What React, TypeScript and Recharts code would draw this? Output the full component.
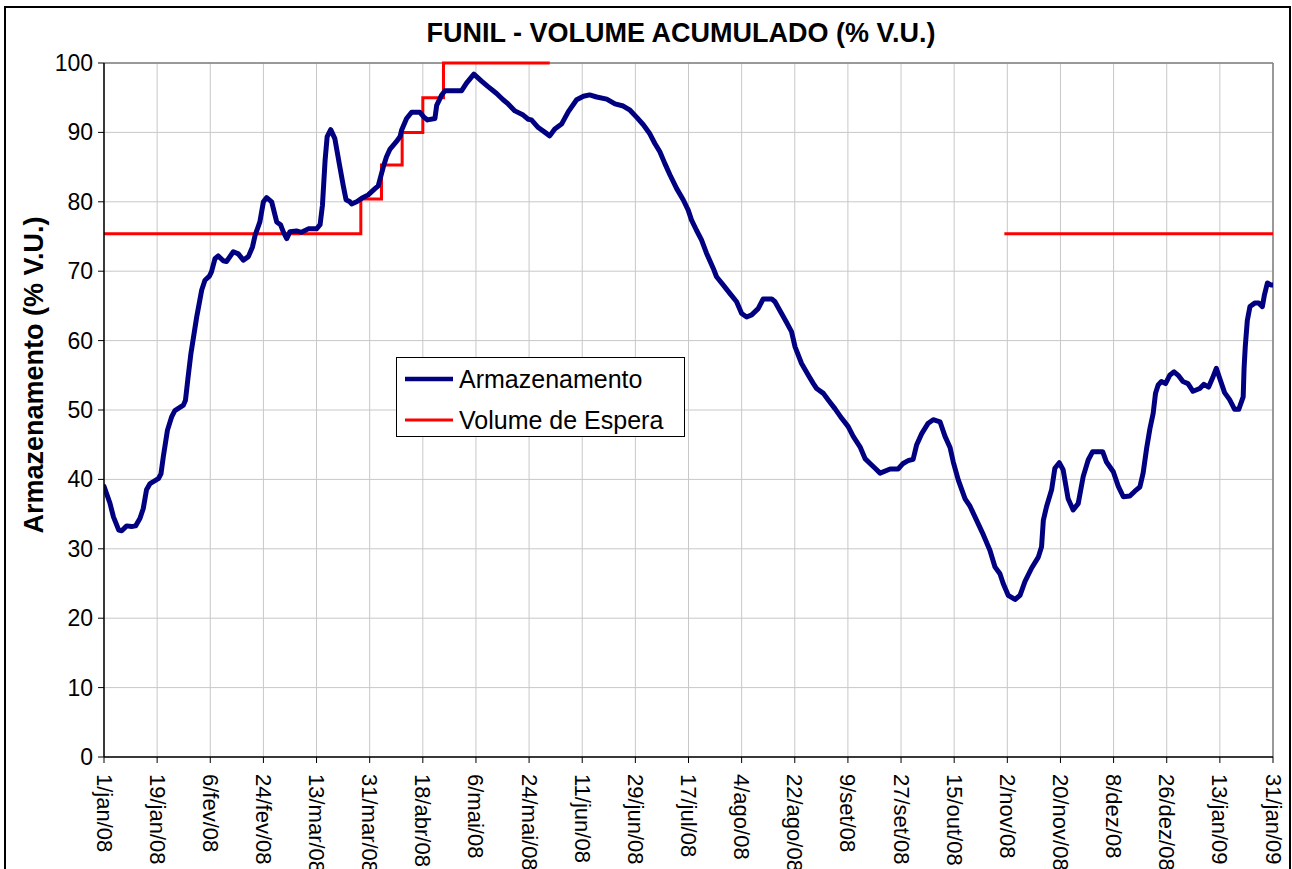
import React from 'react';
import { LineChart, Line, XAxis, YAxis, CartesianGrid, ReferenceLine } from 'recharts';

// Day offsets from 1/jan/08 and storage values (% V.U.)
const armDays = [
  0, 2, 3.2, 5, 6, 7.7, 9.3, 10.7, 12.2, 13.3, 14.4, 15.6, 18.4, 19.3, 20.1, 21.5, 22.9, 24, 26.9, 27.6,
  28.5, 29.4, 31.4, 33.1, 34.2, 35.7, 36.4, 37.6, 38.7, 40.4, 41.5, 43.8, 45.5, 47.2, 48.9, 50.3, 51.2, 52.8,
  54, 55.1, 56.8, 58.5, 59.8, 60.7, 61.9, 63, 65.2, 66.9, 69.2, 72, 73.2, 74, 74.9, 75.6, 76.8, 78.2, 79.7,
  81.1, 82, 83.3, 83.9, 85.6, 87.3, 89.5, 91.8, 92.9, 94.6, 95.7, 96.9, 99.1, 100.3, 100.8, 102.5, 104.2,
  107, 108.4, 109.6, 112.1, 112.7, 114.4, 115.5, 121.1, 122.8, 125.3, 127.9, 130.1, 133, 135.2, 136.9,
  139.2, 142, 143.7, 144.8, 147.1, 149.4, 151, 152.7, 155, 157.3, 160.1, 162.4, 164.5, 166.9, 170.3, 173.1,
  175.9, 178.2, 180.4, 182.7, 184.9, 186.6, 188.3, 190, 191.7, 194, 196.2, 197.9, 199, 200.7, 202.4, 204.1,
  206.4, 207.5, 209.8, 212, 214.3, 216, 217.7, 219.4, 221.6, 223.3, 226.2, 227.3, 229, 231, 232.9, 234.1,
  236.3, 238.6, 240.3, 241.4, 243.7, 245.4, 247.6, 249.9, 252.1, 253.8, 256.1, 257.8, 259.5, 261.2, 262.9,
  266.3, 269, 270.7, 272.4, 274.1, 275.3, 277, 279.2, 280.9, 283.2, 284.9, 286.6, 287.7, 289.4, 291.7,
  293.4, 295.6, 297.9, 300.1, 301.8, 303.5, 304.6, 306.3, 308.6, 310.3, 312, 314.2, 316.5, 317.6, 318.2,
  319.3, 321, 322.1, 323.6, 324.9, 326.6, 328.3, 330, 331.7, 333.4, 334.9, 338.3, 339.6, 341.9, 343.6,
  345.3, 347.5, 349.2, 350.9, 352, 353.2, 354.3, 355.4, 356.2, 357.1, 358.2, 359.6, 361, 362.5, 363.9,
  365.5, 367.2, 368.9, 371.2, 372.6, 374.2, 375.7, 376.8, 378, 379.6, 381.3, 383, 384.4, 385.9, 386.2,
  386.6, 387.3, 388.2, 389.8, 391.2, 392.4, 393.1, 394.1, 395.4, 396,
];
const armValues = [
  39.0, 36.6, 34.6, 32.7, 32.6, 33.3, 33.2, 33.3, 34.4, 35.8, 38.5, 39.4, 40.1, 40.8, 43.3, 47.1, 49.0, 49.9, 50.7, 51.4,
  54.8, 58.0, 63.4, 67.3, 68.7, 69.3, 69.9, 71.8, 72.2, 71.5, 71.4, 72.8, 72.5, 71.6, 72.1, 73.5, 75.2, 77.1,
  80.0, 80.6, 80.0, 77.1, 76.7, 75.7, 74.7, 75.7, 75.8, 75.6, 76.1, 76.1, 76.7, 79.5, 86.0, 89.4, 90.4, 89.1, 85.5,
  82.2, 80.3, 80.0, 79.7, 80.0, 80.5, 81.0, 81.9, 82.3, 85.0, 86.5, 87.6, 88.7, 89.4, 90.3, 92.0, 92.9,
  92.9, 92.2, 91.8, 92.0, 93.9, 95.4, 96.0, 96.0, 97.1, 98.4, 97.4, 96.6, 95.6, 94.7, 94.1,
  93.1, 92.5, 91.9, 91.8, 90.7, 90.0, 89.5, 90.5, 91.2, 93.0, 94.7, 95.2, 95.4, 95.1, 94.8, 94.1,
  93.8, 93.2, 92.2, 91.1, 89.8, 88.4, 87.2, 85.5, 83.9, 81.9, 80.3, 78.8, 77.4, 75.9, 74.5, 72.6,
  70.4, 69.2, 68.0, 66.8, 65.6, 63.9, 63.4, 63.7, 64.6, 66.0, 66.0, 65.6, 64.3, 62.8, 61.3, 59.1,
  56.7, 55.0, 53.8, 53.1, 52.4, 51.4, 50.2, 48.8, 47.6, 46.2, 44.7, 43.0, 42.3, 41.6, 40.9,
  41.5, 41.5, 42.3, 42.7, 42.9, 45.0, 46.6, 48.1, 48.6, 48.3, 46.2, 44.6, 42.5, 39.9, 37.2,
  36.1, 34.1, 32.0, 29.8, 27.4, 26.4, 25.0, 23.3, 22.7, 23.3, 25.3, 27.2, 28.8, 30.3, 34.1,
  36.1, 38.5, 41.6, 42.4, 41.4, 37.2, 35.6, 36.5, 40.4, 42.8, 44.0, 44.0, 42.5, 41.1, 39.0,
  37.5, 37.6, 38.3, 38.9, 40.9, 44.5, 47.3, 49.5, 52.4, 53.6, 54.1, 53.8, 55.0, 55.5, 55.0,
  54.1, 53.8, 52.7, 53.1, 53.7, 53.3, 54.8, 56.0, 54.5, 52.5, 51.5, 50.1, 50.1, 51.9, 56.0,
  59.1, 62.9, 64.9, 65.4, 65.4, 64.9, 66.6, 68.3, 68.0, 68.0,
];

// Volume de Espera (flood-control reservation), step line
const esperaDays = [0, 87, 94, 101, 108, 115, 151, 152, 305, 396];
const esperaValues = [75.4, 80.4, 85.3, 90.0, 95.0, 100.0, 100.0, null, 75.4, 75.4];

const xTickDays = [0, 18, 36, 54, 72, 90, 108, 126, 144, 162, 180, 198, 216, 234, 252, 270, 288, 306, 324, 342, 360, 378, 396];
const xTickLabels = [
  '1/jan/08', '19/jan/08', '6/fev/08', '24/fev/08', '13/mar/08', '31/mar/08', '18/abr/08', '6/mai/08',
  '24/mai/08', '11/jun/08', '29/jun/08', '17/jul/08', '4/ago/08', '22/ago/08', '9/set/08', '27/set/08',
  '15/out/08', '2/nov/08', '20/nov/08', '8/dez/08', '26/dez/08', '13/jan/09', '31/jan/09',
];
const yTicks = [0, 10, 20, 30, 40, 50, 60, 70, 80, 90, 100];

const title = 'FUNIL - VOLUME ACUMULADO (% V.U.)';
const yLabel = 'Armazenamento (% V.U.)';
const seriesArm = 'Armazenamento';
const seriesEspera = 'Volume de Espera';

const armData = armDays.map((d, i) => ({ day: d, value: armValues[i] }));
const esperaData = esperaDays.map((d, i) => ({ day: d, value: esperaValues[i] }));

const FONT = '"Liberation Sans", Arial, sans-serif';
const BLUE = '#000080';
const RED = '#ff0000';

const XTick = (props: any) => {
  const { x, payload } = props;
  const idx = xTickDays.indexOf(payload.value);
  const y = 774;
  return (
    <text
      x={x}
      y={y}
      transform={`rotate(90 ${x} ${y})`}
      textAnchor="start"
      dominantBaseline="central"
      fontFamily={FONT}
      fontSize={22}
      fill="#000"
    >
      {idx >= 0 ? xTickLabels[idx] : ''}
    </text>
  );
};

const YTick = (props: any) => {
  const { y, payload } = props;
  return (
    <text x={93} y={y} textAnchor="end" dominantBaseline="central" fontFamily={FONT} fontSize={23} fill="#000">
      {payload.value}
    </text>
  );
};

export default function App() {
  return (
    <div
      style={{
        position: 'absolute',
        left: 0,
        top: 0,
        width: 1292,
        height: 869,
        overflow: 'hidden',
        background: '#fff',
      }}
    >
      <LineChart
        width={1292}
        height={869}
        margin={{ top: 63, right: 19, left: 44, bottom: 0 }}
      >
        <CartesianGrid stroke="#c8c8c8" strokeWidth={1} />
        <XAxis
          type="number"
          dataKey="day"
          domain={[0, 396]}
          ticks={xTickDays}
          interval={0}
          height={112}
          tick={<XTick />}
          tickSize={6}
          tickLine={{ stroke: '#000' }}
          axisLine={{ stroke: '#000', strokeWidth: 1.5 }}
          allowDataOverflow
        />
        <YAxis
          type="number"
          domain={[0, 100]}
          ticks={yTicks}
          interval={0}
          width={60}
          tick={<YTick />}
          tickSize={6}
          tickLine={{ stroke: '#000' }}
          axisLine={{ stroke: '#000', strokeWidth: 1.5 }}
        />
        <ReferenceLine y={100} stroke="#808080" strokeWidth={1.5} />
        <ReferenceLine x={396} stroke="#808080" strokeWidth={1.5} />
        <Line
          data={esperaData}
          dataKey="value"
          name={seriesEspera}
          type="stepAfter"
          stroke={RED}
          strokeWidth={3}
          dot={false}
          activeDot={false}
          isAnimationActive={false}
          connectNulls={false}
        />
        <Line
          data={armData}
          dataKey="value"
          name={seriesArm}
          type="linear"
          stroke={BLUE}
          strokeWidth={5}
          strokeLinejoin="round"
          strokeLinecap="round"
          dot={false}
          activeDot={false}
          isAnimationActive={false}
        />
      </LineChart>
      <div
        style={{
          position: 'absolute',
          left: 396,
          top: 357,
          width: 289,
          height: 80,
          boxSizing: 'border-box',
          border: '1px solid #000',
          background: '#fff',
        }}
      >
        <svg width={287} height={78} style={{ display: 'block' }}>
          <line x1={8} x2={56} y1={21} y2={21} stroke={BLUE} strokeWidth={4.5} />
          <text x={62} y={21} dominantBaseline="central" fontFamily={FONT} fontSize={25} fill="#000">
            {seriesArm}
          </text>
          <line x1={8} x2={56} y1={62} y2={62} stroke={RED} strokeWidth={3} />
          <text x={62} y={62} dominantBaseline="central" fontFamily={FONT} fontSize={25} fill="#000">
            {seriesEspera}
          </text>
        </svg>
      </div>
      <svg
        width={1292}
        height={869}
        style={{ position: 'absolute', left: 0, top: 0, pointerEvents: 'none' }}
      >
        <rect x={5} y={7} width={1285} height={900} fill="none" stroke="#000" strokeWidth={2} />
        <text x={681} y={42} textAnchor="middle" fontFamily={FONT} fontWeight="bold" fontSize={27} fill="#000">
          {title}
        </text>
        <text
          x={43}
          y={375}
          transform="rotate(-90 43 375)"
          textAnchor="middle"
          fontFamily={FONT}
          fontWeight="bold"
          fontSize={27}
          fill="#000"
        >
          {yLabel}
        </text>
      </svg>
    </div>
  );
}
